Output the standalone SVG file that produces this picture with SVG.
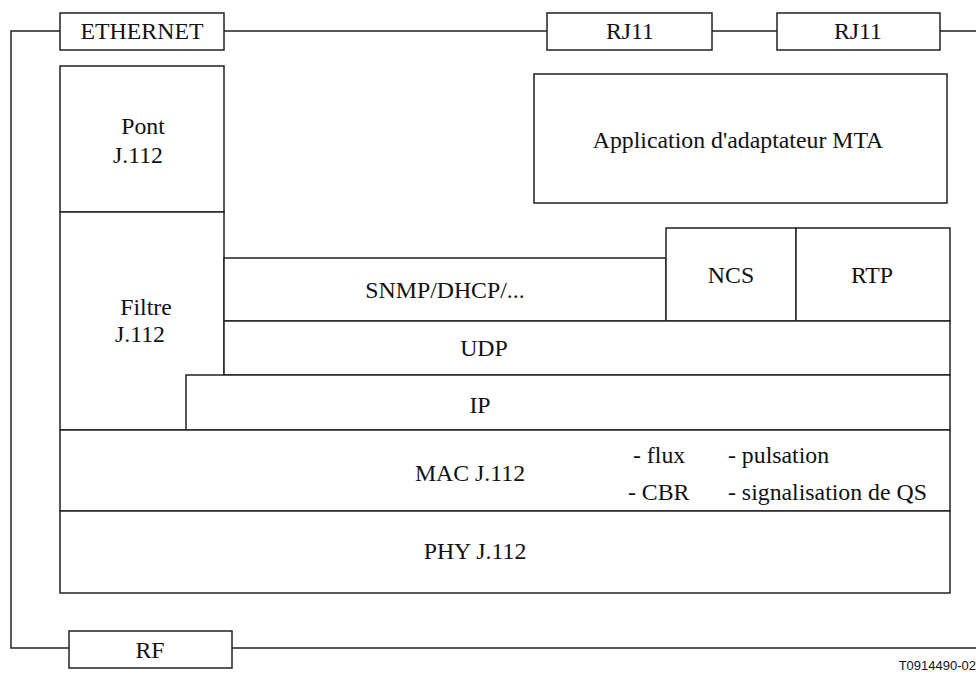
<svg xmlns="http://www.w3.org/2000/svg" width="976" height="677" viewBox="0 0 976 677">
<style>
.b{fill:#fff;stroke:#222;stroke-width:1.5}
.l{fill:none;stroke:#222;stroke-width:1.5}
text{font-family:"Liberation Serif","Times New Roman",serif;font-size:23.8px;fill:#111;text-anchor:middle}
.s{text-anchor:start}
.ref{font-family:"Liberation Sans",Arial,sans-serif;font-size:13px;text-anchor:end}
</style>
<rect width="976" height="677" fill="#fff"/>
<g id="connectors">
<path class="l" d="M976 31H11V648H976"/>
</g>
<g id="ethernet"><rect class="b" x="60" y="13" width="164" height="37"/><text x="142" y="39">ETHERNET</text></g>
<g id="rj11a"><rect class="b" x="547" y="13" width="165" height="37"/><text x="630" y="39">RJ11</text></g>
<g id="rj11b"><rect class="b" x="777" y="13" width="163" height="37"/><text x="858" y="39">RJ11</text></g>
<g id="rf"><rect class="b" x="69" y="631" width="163" height="37"/><text x="150" y="658">RF</text></g>
<g id="pont"><rect class="b" x="60" y="66" width="164" height="146"/><text x="143" y="134">Pont</text><text x="138" y="163">J.112</text></g>
<g id="filtre"><rect class="b" x="60" y="212" width="164" height="218"/><text x="146" y="315">Filtre</text><text x="140" y="342">J.112</text></g>
<g id="mta"><rect class="b" x="534" y="74" width="413" height="129"/><text x="738" y="148">Application d'adaptateur MTA</text></g>
<g id="snmp"><rect class="b" x="224" y="258" width="442" height="63"/><text x="445" y="298">SNMP/DHCP/...</text></g>
<g id="ncs"><rect class="b" x="666" y="228" width="130" height="93"/><text x="731" y="283">NCS</text></g>
<g id="rtp"><rect class="b" x="796" y="228" width="154" height="93"/><text x="872" y="283">RTP</text></g>
<g id="udp"><rect class="b" x="224" y="321" width="726" height="54"/><text x="484" y="356">UDP</text></g>
<g id="ip"><rect class="b" x="186" y="375" width="764" height="55"/><text x="480" y="413">IP</text></g>
<g id="mac"><rect class="b" x="60" y="430" width="890" height="81"/><text x="470" y="481">MAC J.112</text>
<text class="s" x="633" y="463">- flux</text><text class="s" x="628" y="500">-  CBR</text>
<text class="s" x="728" y="463">- pulsation</text><text class="s" x="728" y="500">- signalisation de QS</text></g>
<g id="phy"><rect class="b" x="60" y="511" width="890" height="82"/><text x="475" y="559">PHY J.112</text></g>
<text class="ref" x="976" y="670">T0914490-02</text>
</svg>
